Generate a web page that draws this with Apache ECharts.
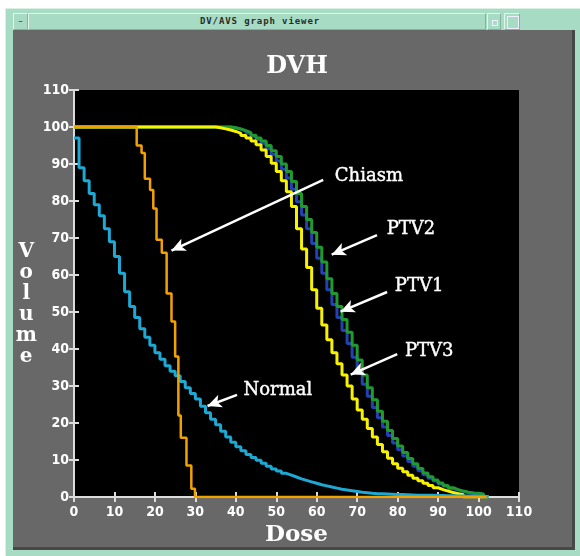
<!DOCTYPE html>
<html><head><meta charset="utf-8">
<script src="https://cdn.jsdelivr.net/npm/echarts@6/dist/echarts.min.js"></script>
<style>
html,body{margin:0;padding:0;background:#fff;width:580px;height:556px;overflow:hidden;}
.abs{position:absolute;box-sizing:border-box;}
#frame{left:5px;top:8px;width:575px;height:548px;background:#a7dbc3;border-top:1px solid #d9f1e5;border-left:1px solid #d9f1e5;}
#btnL{left:13px;top:13px;width:15px;height:17px;border:1px solid #e3f5ec;border-right-color:#80b59c;border-bottom-color:#80b59c;background:#a7dbc3;font:9px 'DejaVu Sans',sans-serif;color:#333;text-align:center;line-height:14px;}
#tbar{left:28px;top:13px;width:458px;height:17px;background:#a7dbc3;border:1px solid #e3f5ec;border-right-color:#80b59c;border-bottom-color:#80b59c;}
#ttext{left:150px;top:15px;width:220px;height:14px;font:bold 9px 'DejaVu Sans Mono',monospace;color:#2b2b2b;text-align:center;line-height:13px;letter-spacing:0.9px;}
#btnR1{left:487px;top:13px;width:14px;height:17px;border:1px solid #e3f5ec;border-right-color:#80b59c;border-bottom-color:#80b59c;background:#a7dbc3;}
#btnR1 i{position:absolute;left:4px;top:6px;width:4px;height:4px;border:1px solid #eef;}
#btnR2{left:504px;top:13px;width:16px;height:17px;border:1px solid #e3f5ec;border-right-color:#80b59c;border-bottom-color:#80b59c;background:#a7dbc3;}
#btnR2 i{position:absolute;left:2px;top:2px;width:10px;height:11px;border:1px solid #eef;}
#content{left:13px;top:30px;width:562px;height:520px;background:#686868;border-right:3px solid #474747;border-bottom:3px solid #474747;}
#chart{left:0;top:0;width:580px;height:556px;z-index:5;}
</style>
</head><body>
<div id="frame" class="abs"></div>
<div id="btnL" class="abs">–</div>
<div id="tbar" class="abs"></div>
<div id="ttext" class="abs">DV/AVS graph viewer</div>
<div id="btnR1" class="abs"><i></i></div>
<div id="btnR2" class="abs"><i></i></div>
<div id="content" class="abs"></div>
<div id="chart" class="abs"></div>
<script>
// ---- data ----
const doseBins = [
  0, 1.25, 2.5, 3.75, 5, 6.25, 7.5, 8.75,
  10, 11.25, 12.5, 13.75, 15, 16.25, 17.5, 18.75,
  20, 21.25, 22.5, 23.75, 25, 26.25, 27.5, 28.75,
  30, 31.25, 32.5, 33.75, 35, 36.25, 37.5, 38.75,
  40, 41.25, 42.5, 43.75, 45, 46.25, 47.5, 48.75,
  50, 51.25, 52.5, 53.75, 55, 56.25, 57.5, 58.75,
  60, 61.25, 62.5, 63.75, 65, 66.25, 67.5, 68.75,
  70, 71.25, 72.5, 73.75, 75, 76.25, 77.5, 78.75,
  80, 81.25, 82.5, 83.75, 85, 86.25, 87.5, 88.75,
  90, 91.25, 92.5, 93.75, 95, 96.25, 97.5, 98.75,
  100, 101.25, 102.5
];
const normalVol = [
  97, 89, 85.5, 82, 79, 76, 72.5, 69,
  65, 60.5, 55.5, 51.5, 48.5, 45.5, 43.2, 41,
  39, 37.2, 35.5, 34, 32.8, 31.2, 29.5, 28,
  26.5, 24.5, 22.8, 21, 19.5, 17.8, 16.2, 14.8,
  13.6, 12.5, 11.5, 10.7, 9.9, 9.1, 8.3, 7.6,
  7, 6.4, 5.9, 5.4, 4.9, 4.5, 4.1, 3.7,
  3.3, 3, 2.7, 2.4, 2.1, 1.9, 1.7, 1.5,
  1.3, 1.15, 1, 0.9, 0.85, 0.8, 0.75, 0.7,
  0.65, 0.6, 0.55, 0.5, 0.5, 0.45, 0.45, 0.4,
  0.4, 0.35, 0.35, 0.3, 0.3, 0.25, 0.25, 0.2,
  0.2, 0, 0
];
const ptv1Vol = [
  100, 100, 100, 100, 100, 100, 100, 100,
  100, 100, 100, 100, 100, 100, 100, 100,
  100, 100, 100, 100, 100, 100, 100, 100,
  100, 100, 100, 100, 100, 100, 100, 99.8,
  99.4, 98.9, 98.3, 97.5, 96.6, 95.6, 94.2, 92.6,
  90.8, 88.6, 86.2, 83.2, 79.8, 76.2, 72.5, 68.5,
  64.5, 60.5, 56, 52, 48.5, 45, 41.5, 37.8,
  34, 30.5, 27.2, 24.2, 21.4, 18.9, 16.6, 14.6,
  12.8, 11.1, 9.6, 8.3, 7.1, 6, 5.1, 4.3,
  3.5, 2.9, 2.3, 1.9, 1.5, 1.2, 1, 0.8,
  0.6, 0, 0
];
const ptv2Vol = [
  100, 100, 100, 100, 100, 100, 100, 100,
  100, 100, 100, 100, 100, 100, 100, 100,
  100, 100, 100, 100, 100, 100, 100, 100,
  100, 100, 100, 100, 100, 100, 100, 99.8,
  99.5, 99, 98.5, 97.8, 97, 96.2, 95, 93.6,
  92, 90, 88, 85.3, 82, 78.5, 75, 71.5,
  67.5, 63.5, 59, 55, 51.5, 48, 44.5, 41,
  37, 33, 29.5, 26.3, 23.2, 20.5, 18, 15.8,
  13.8, 12, 10.4, 9, 7.7, 6.5, 5.5, 4.6,
  3.8, 3.1, 2.5, 2, 1.6, 1.3, 1.1, 1,
  0.8, 0, 0
];
const ptv3Vol = [
  100, 100, 100, 100, 100, 100, 100, 100,
  100, 100, 100, 100, 100, 100, 100, 100,
  100, 100, 100, 100, 100, 100, 100, 100,
  100, 100, 100, 100, 99.8, 99.5, 99.2, 98.8,
  98.3, 97.7, 97, 96.2, 95.2, 93.8, 92, 90.2,
  88, 85.5, 82.5, 78.5, 72.5, 67, 62, 56,
  51, 46.5, 42.5, 39, 36, 33, 30, 26.5,
  23.5, 21, 18.5, 16.2, 14.2, 12.2, 10.5, 9,
  7.8, 6.8, 5.9, 5.1, 4.4, 3.7, 3.1, 2.5,
  2, 1.6, 1.2, 0.9, 0.6, 0, 0, 0,
  0, 0, 0
];
const chiasmDose = [0, 15.5, 16.7, 17.5, 18.8, 19.6, 20.4, 21.7, 22.9, 24.1, 25.0, 25.8, 26.4, 27.8, 29.0, 29.9, 102];
const chiasmVol  = [100, 95, 93, 86, 83, 78, 69.5, 66, 55, 47.4, 38, 22, 16, 8.5, 2.2, 0, 0];

const axisTicks = [0, 10, 20, 30, 40, 50, 60, 70, 80, 90, 100, 110];

// annotations (data coordinates)
const annoNames = ['Chiasm', 'PTV2', 'PTV1', 'PTV3', 'Normal'];
const annoLabelPos = [[72.9, 86.8], [83.3, 72.4], [85.3, 57.0], [87.8, 39.5], [50.4, 28.9]];
const arrowFrom = [[61.6, 85.7], [74.9, 70.8], [77.4, 55.4], [79.9, 38.6], [40.3, 27.6]];
const arrowTo   = [[24.1, 66.6], [63.7, 65.5], [65.9, 50.1], [68.4, 33.1], [33.0, 24.6]];

// ---- chart ----
const chart = echarts.init(document.getElementById('chart'));
const shadow = {textShadowColor: '#000', textShadowOffsetX: 1, textShadowOffsetY: 1, textShadowBlur: 0};
const tickFont = Object.assign({color: '#fff', fontFamily: "'Liberation Sans Narrow','DejaVu Sans Condensed','Liberation Sans',sans-serif", fontWeight: 'bold', fontSize: 14}, shadow);
const nameFont = Object.assign({color: '#fff', fontFamily: "'DejaVu Serif',serif", fontWeight: 'bold'}, shadow);
const tickLine = {color: '#dcdcdc', width: 2};
const tMin = axisTicks[0], tMax = axisTicks[axisTicks.length - 1], tStep = axisTicks[1] - axisTicks[0];

function stepSeries(name, xs, ys, color, width, z) {
  return {
    type: 'line', name: name, step: 'end', symbol: 'none', showSymbol: false, silent: true,
    data: xs.map((x, i) => [x, ys[i]]),
    lineStyle: {color: color, width: width}, itemStyle: {color: color}, z: z,
    emphasis: {disabled: true}
  };
}

const option = {
  animation: false,
  backgroundColor: 'transparent',
  grid: {left: 74, top: 90, width: 445, height: 407, show: true, backgroundColor: '#000', borderWidth: 0},
  graphic: [{
    type: 'text', z: 100,
    style: {x: 297, y: 67, text: 'DVH', fill: '#fff', font: "bold 24px 'DejaVu Serif', serif", align: 'center', verticalAlign: 'middle',
            textShadowColor: '#000', textShadowOffsetX: 2, textShadowOffsetY: 2}
  }],
  xAxis: [
    {type: 'value', min: tMin, max: tMax, interval: tStep, position: 'bottom',
     axisLine: {show: false}, axisTick: {show: true, inside: true, length: 5, lineStyle: tickLine},
     axisLabel: Object.assign({margin: 8}, tickFont), splitLine: {show: false},
     name: 'Dose', nameLocation: 'middle', nameGap: 38,
     nameTextStyle: Object.assign({fontSize: 23, verticalAlign: 'middle'}, nameFont)},
    {type: 'value', min: tMin, max: tMax, interval: tStep, position: 'top',
     axisLine: {show: true, lineStyle: tickLine}, axisTick: {show: true, inside: true, length: 5, lineStyle: tickLine},
     axisLabel: {show: false}, splitLine: {show: false}}
  ],
  yAxis: [
    {type: 'value', min: tMin, max: tMax, interval: tStep, position: 'left',
     axisLine: {show: true, lineStyle: tickLine}, axisTick: {show: true, inside: true, length: 5, lineStyle: tickLine},
     axisLabel: Object.assign({margin: 5}, tickFont), splitLine: {show: false},
     name: ' \nV\no\nl\nu\nm\ne', nameLocation: 'middle', nameGap: 39, nameRotate: 0,
     nameTextStyle: Object.assign({fontSize: 20, lineHeight: 21, align: 'center', verticalAlign: 'middle'}, nameFont)},
    {type: 'value', min: tMin, max: tMax, interval: tStep, position: 'right',
     axisLine: {show: false}, axisTick: {show: true, inside: true, length: 5, lineStyle: tickLine},
     axisLabel: {show: false}, splitLine: {show: false}}
  ],
  series: [
    stepSeries('PTV1', doseBins, ptv1Vol, '#2340b4', 3, 2),
    stepSeries('PTV2', doseBins, ptv2Vol, '#1f9a2e', 3, 3),
    stepSeries('PTV3', doseBins, ptv3Vol, '#f7f200', 3, 4),
    stepSeries('Normal', doseBins, normalVol, '#1ea8d4', 3, 5),
    stepSeries('Chiasm', chiasmDose, chiasmVol, '#f2a200', 2.5, 6),
    {
      type: 'scatter', name: 'labels', silent: true, z: 20,
      symbolSize: 1, itemStyle: {color: 'rgba(0,0,0,0)'},
      data: annoNames.map((n, i) => ({name: n, value: annoLabelPos[i]})),
      label: {show: true, position: 'inside', formatter: '{b}', color: '#ffffff', fontFamily: "'DejaVu Serif',serif", fontSize: 18,
              textBorderColor: '#ffffff', textBorderWidth: 0.4, opacity: 1},
      emphasis: {disabled: true},
      markLine: {
        silent: true, animation: false,
        symbol: ['none', 'arrow'], symbolSize: [10, 14],
        lineStyle: {color: '#fff', width: 2.5, type: 'solid', opacity: 1},
        label: {show: false},
        emphasis: {disabled: true},
        data: arrowFrom.map((f, i) => [{coord: f}, {coord: arrowTo[i]}])
      }
    }
  ]
};
chart.setOption(option);
</script>
</body></html>
